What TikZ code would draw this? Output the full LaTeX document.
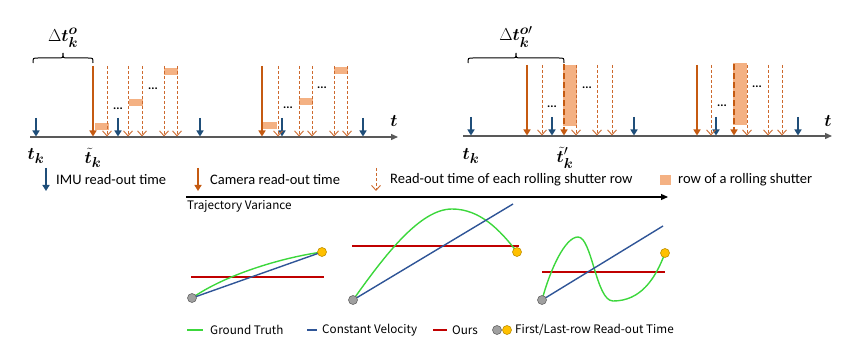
\documentclass[tikz,border=0pt]{standalone}
\usepackage{amsmath,bm}
\usepackage{fontspec}
\setmainfont{Carlito}
\newfontfamily\lgfont{Noto Sans CJK SC}
\usetikzlibrary{arrows.meta}
\definecolor{imublue}{RGB}{31,78,121}
\definecolor{camor}{RGB}{197,90,17}
\definecolor{rsor}{RGB}{205,105,45}
\definecolor{rowfill}{RGB}{244,177,131}
\definecolor{axisgray}{RGB}{89,89,89}
\definecolor{gtgreen}{RGB}{60,215,60}
\definecolor{cvblue}{RGB}{47,85,151}
\definecolor{oursred}{RGB}{192,0,0}
\definecolor{dotgray}{RGB}{160,160,160}
\definecolor{dotyellow}{RGB}{255,192,0}
\tikzset{
  imu/.style={imublue,line width=2.2pt,-{Triangle[length=6pt,width=7pt]}},
  cam/.style={camor,line width=2.2pt,-{Triangle[length=6pt,width=7pt]}},
  rs/.style={rsor,line width=0.9pt,dash pattern=on 3pt off 2pt,-{Straight Barb[length=5pt,width=9pt,line width=0.9pt]}},
  rsthick/.style={camor,line width=2.6pt,dash pattern=on 6pt off 3pt,-{Triangle[length=6pt,width=7pt]}},
  taxis/.style={axisgray,line width=1.3pt,-{Triangle[length=7pt,width=6pt]}},
  rowbox/.style={fill=rowfill,draw=none},
  dots/.style={font=\fontsize{12}{12}\selectfont\bfseries,inner sep=0pt},
  mlab/.style={font=\fontsize{19}{22}\selectfont,inner sep=0pt},
  brc/.style={line width=1pt,black},
  leg/.style={font=\fontsize{14.5}{16}\selectfont,anchor=west,inner sep=0pt},
  leg2/.style={font=\lgfont\fontsize{11.7}{13}\selectfont,anchor=west,inner sep=0pt},
  gt/.style={gtgreen,line width=1.4pt},
  cv/.style={cvblue,line width=1.4pt},
  ours/.style={oursred,line width=1.4pt},
  fdot/.style={circle,fill=dotgray,draw=gray!80!black,line width=0.6pt,minimum size=9pt,inner sep=0pt},
  ldot/.style={circle,fill=dotyellow,draw=dotyellow!75!black,line width=0.6pt,minimum size=9pt,inner sep=0pt},
}
\begin{document}
\begin{tikzpicture}[x=1pt,y=-1pt]
\useasboundingbox (0,0) rectangle (858,344);

% ===== left timeline =====
\draw[taxis] (30,137) -- (398,137);
\foreach \x/\y in {95/123,129/99,164/68,263/122,299/98,334/67}
  \fill[rowbox] (\x,\y) rectangle ++(13.5,7);
\foreach \x in {36,118,200,282,363} \draw[imu] (\x,118) -- (\x,136.5);
\foreach \x in {93,262} \draw[cam] (\x,66) -- (\x,136.5);
\foreach \x in {107,128,142,164,177,278,299,312,334,347} \draw[rs] (\x,66) -- (\x,136.5);
\node[dots] (d1) at (118,109) {...};
\node[dots] (d2) at (153,89) {...};
\node[dots] (d3) at (288,108) {...};
\node[dots] (d4) at (322,88) {...};
\draw[brc] (33,63) .. controls (33,58) .. (38,58) -- (58,58) .. controls (63,58) .. (63,53)
  .. controls (63,58) .. (68,58) -- (88,58) .. controls (93,58) .. (93,63);
\node[mlab] (dl) at (63,38) {$\Delta \bm{t}_{\bm{k}}^{\bm{o}}$};
\node[mlab] (tk1) at (36,156) {$\bm{t}_{\bm{k}}$};
\node[mlab] (ttk) at (93,158) {$\tilde{\bm{t}}_{\bm{k}}$};
\node[mlab] (t1) at (394,121) {$\bm{t}$};

% ===== right timeline =====
\draw[taxis] (463,136) -- (832,136);
\fill[rowbox] (563,65) rectangle (577,126);
\fill[rowbox] (733,63) rectangle (747,125);
\foreach \x in {471,552,634,716,798} \draw[imu] (\x,117) -- (\x,135.5);
\foreach \x in {527,697} \draw[cam] (\x,65) -- (\x,135.5);
\foreach \x in {542,576,597,612,711,747,768,782} \draw[rs] (\x,65) -- (\x,135.5);
\foreach \x in {564,734} \draw[rsthick] (\x,64) -- (\x,135.5);
\node[dots] (d5) at (552,107) {...};
\node[dots] (d6) at (587,88) {...};
\node[dots] (d7) at (722,106) {...};
\node[dots] (d8) at (757,87) {...};
\draw[brc] (468,63) .. controls (468,58) .. (473,58) -- (511,58) .. controls (516,58) .. (516,53)
  .. controls (516,58) .. (521,58) -- (559,58) .. controls (564,58) .. (564,63);
\node[mlab] (dr) at (516,37) {$\Delta \bm{t}_{\bm{k}}^{\bm{o}\prime}$};
\node[mlab] (tk2) at (471,156) {$\bm{t}_{\bm{k}}$};
\node[mlab] (ttk2) at (565,158) {$\tilde{\bm{t}}_{\bm{k}}^{\prime}$};
\node[mlab] (t2) at (828,121) {$\bm{t}$};

% ===== legend row =====
\draw[imu] (46,168) -- (46,191);
\node[leg] (l1) at (56,180) {IMU read-out time};
\draw[cam] (198,168) -- (198,191);
\node[leg] (l2) at (210,180) {Camera read-out time};
\draw[rs] (376,168) -- (376,191);
\node[leg] (l3) at (390,180) {Read-out time of each rolling shutter row};
\fill[rowbox] (660,175) rectangle (671,185);
\node[leg] (l4) at (678,180) {row of a rolling shutter};

% ===== trajectory variance =====
\draw[black,line width=1.1pt,-{Triangle[length=7pt,width=6pt]}] (186,197) -- (668,197);
\node[leg2,anchor=north west] (tv) at (187,200) {Trajectory Variance};

% panel 1
\draw[ours] (191,277) -- (324,277);
\draw[gt] (192,298) .. controls (225,275) and (280,258) .. (322,252);
\draw[cv] (192,298) -- (322,252);
\node[fdot] (g1) at (192,298) {};
\node[ldot] (y1) at (322,252) {};

% panel 2
\draw[ours] (352,246) -- (519,246);
\draw[gt] (353,300) .. controls (385,255) and (420,209) .. (452,209) .. controls (480,209) and (500,230) .. (517,252);
\draw[cv] (353,300) -- (513,204);
\node[fdot] (g2) at (353,300) {};
\node[ldot] (y2) at (517,252) {};

% panel 3
\draw[ours] (542,272) -- (665,272);
\draw[gt] (542,300) .. controls (550,270) and (565,237) .. (578,237) .. controls (592,237) and (596,301) .. (613,301) .. controls (640,301) and (655,280) .. (665,253);
\draw[cv] (542,300) -- (663,226);
\node[fdot] (g3) at (542,300) {};
\node[ldot] (y3) at (665,253) {};

% bottom legend
\draw[gt] (187,330) -- (203,330);
\node[leg2] (b1) at (210,330) {Ground Truth};
\draw[cv] (307,330) -- (317,330);
\node[leg2] (b2) at (322,330) {Constant Velocity};
\draw[ours] (433,330) -- (447,330);
\node[leg2] (b3) at (452,330) {Ours};
\node[fdot] (bg) at (497,330) {};
\node[ldot] (by) at (507,330) {};
\node[leg2] (b4) at (515,330) {First/Last-row Read-out Time};
\end{tikzpicture}
\end{document}
